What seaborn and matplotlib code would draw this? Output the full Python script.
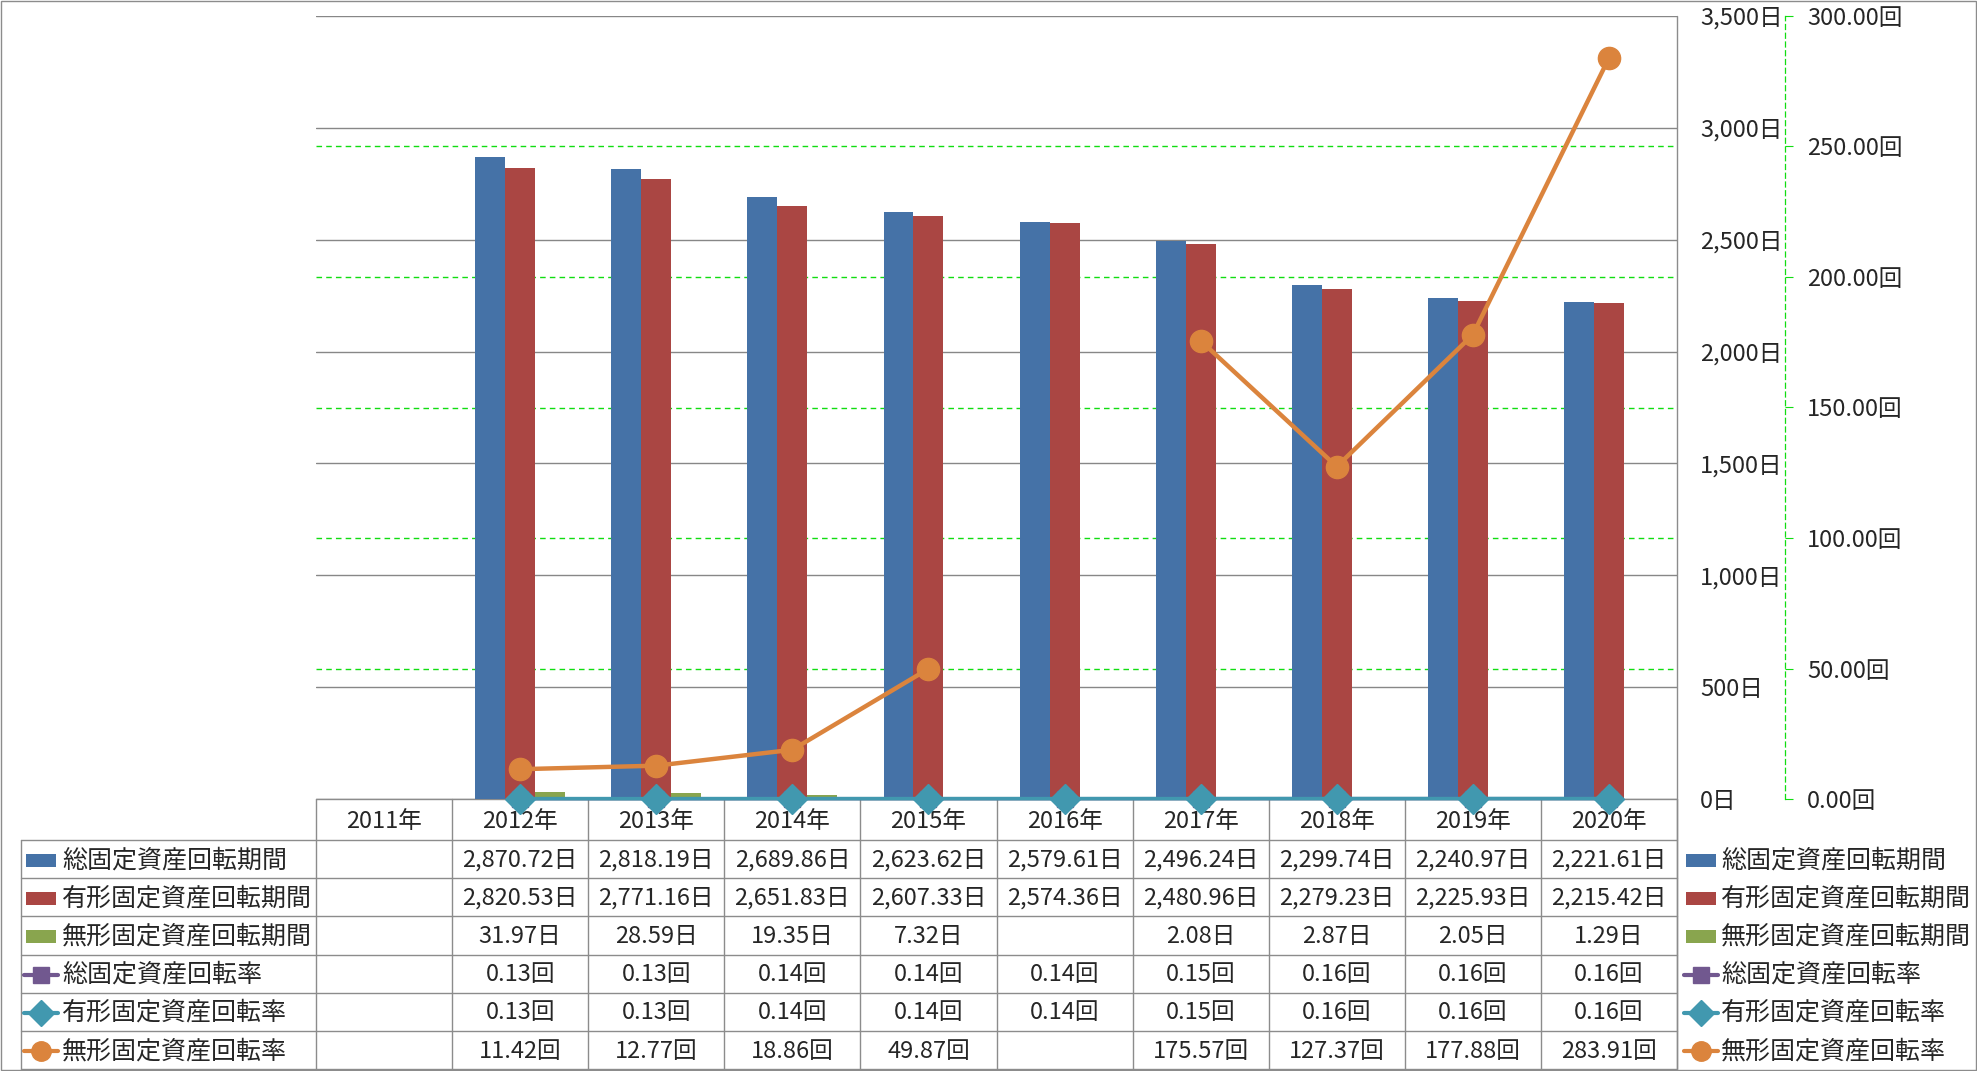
import numpy as np
import pandas as pd
import matplotlib
matplotlib.use("Agg")
import matplotlib.pyplot as plt
import seaborn as sns
from matplotlib.lines import Line2D
from matplotlib.patches import Rectangle

# ---------------- data ----------------
years = ["2011年", "2012年", "2013年", "2014年", "2015年", "2016年",
         "2017年", "2018年", "2019年", "2020年"]
nan = np.nan
total_period = [nan, 2870.72, 2818.19, 2689.86, 2623.62, 2579.61, 2496.24, 2299.74, 2240.97, 2221.61]
tangible_period = [nan, 2820.53, 2771.16, 2651.83, 2607.33, 2574.36, 2480.96, 2279.23, 2225.93, 2215.42]
intangible_period = [nan, 31.97, 28.59, 19.35, 7.32, nan, 2.08, 2.87, 2.05, 1.29]
total_rate = [nan, 0.13, 0.13, 0.14, 0.14, 0.14, 0.15, 0.16, 0.16, 0.16]
tangible_rate = [nan, 0.13, 0.13, 0.14, 0.14, 0.14, 0.15, 0.16, 0.16, 0.16]
intangible_rate = [nan, 11.42, 12.77, 18.86, 49.87, nan, 175.57, 127.37, 177.88, 283.91]

bar_names = ["総固定資産回転期間", "有形固定資産回転期間", "無形固定資産回転期間"]
line_names = ["総固定資産回転率", "有形固定資産回転率", "無形固定資産回転率"]
left_ticks = [0, 500, 1000, 1500, 2000, 2500, 3000, 3500]
right_ticks = [0, 50, 100, 150, 200, 250, 300]

# ---------------- style ----------------
sns.set_style("white")
plt.rcParams["font.family"] = ["Noto Sans CJK JP", "DejaVu Sans"]

BLUE, RED, GREEN = "#4572A7", "#AA4643", "#89A54E"
PURPLE, TEAL, ORANGE = "#71588F", "#4198AF", "#DB843D"
GRID_GRAY = "#878787"
LGREEN = "#11DD11"
FS = 17
FS_LAB = 18

W, H = 1977, 1071
fig = plt.figure(figsize=(W / 100, H / 100), dpi=100)

def px_rect(x0, y0, x1, y1):
    return [x0 / W, 1 - y1 / H, (x1 - x0) / W, (y1 - y0) / H]

# overlay for table (pixel coordinates)
tab = fig.add_axes([0, 0, 1, 1])
tab.set_xlim(0, W)
tab.set_ylim(H, 0)
tab.axis("off")
tab.set_zorder(0)

PL, PR, PT, PB = 316, 1677, 16, 799
ax = fig.add_axes(px_rect(PL, PT, PR, PB))
ax.set_zorder(1)
ax.patch.set_alpha(0)

# ---------------- bars ----------------
df = pd.DataFrame({
    "year": years * 3,
    "series": sum([[n] * len(years) for n in bar_names], []),
    "value": total_period + tangible_period + intangible_period,
}).dropna()

sns.barplot(data=df, x="year", y="value", hue="series", order=years,
            hue_order=bar_names, palette=[BLUE, RED, GREEN], width=0.66,
            dodge=True, errorbar=None, legend=False, saturation=1,
            linewidth=0, ax=ax)

ax.set_xlim(-0.5, len(years) - 0.5)
ax.set_ylim(0, 3500)
ax.set_xlabel("")
ax.set_ylabel("")
ax.set_xticks([])
for s in ax.spines.values():
    s.set_visible(False)
ax.set_axisbelow(True)
ax.yaxis.grid(True, color=GRID_GRAY, lw=1.0)
for v in right_ticks[1:-1]:
    ax.axhline(v / 300 * 3500, color=LGREEN, lw=1.0, ls=(0, (4, 3)), zorder=0.6)

# ---------------- lines ----------------
ax2 = ax.twinx()
ax2.set_zorder(2)
x = np.arange(len(years))
ax2.plot(x, total_rate, color=PURPLE, marker="s", ms=12, lw=2.4, clip_on=False)
ax2.plot(x, tangible_rate, color=TEAL, marker="D", ms=15, lw=2.6, clip_on=False)
ax2.plot(x, intangible_rate, color=ORANGE, marker="o", ms=16, lw=3.2, clip_on=False)
ax2.set_ylim(0, 300)
ax2.set_xlim(-0.5, len(years) - 0.5)
for k, s in ax2.spines.items():
    s.set_visible(k == "right")
ax2.spines["right"].set_position(("outward", (1785 - PR) * 0.72))
ax2.spines["right"].set_color(LGREEN)
ax2.spines["right"].set_linestyle((0, (4, 3)))
ax2.spines["right"].set_linewidth(0.9)
ax2.set_yticks(right_ticks)
ax2.set_yticklabels([f"{v:.2f}回" for v in right_ticks])
ax2.tick_params(axis="y", direction="out", length=5.8, width=0.8, color=LGREEN,
                pad=10, labelsize=FS)

# primary tick labels on the right
ax.yaxis.tick_right()
ax.set_yticks(left_ticks)
ax.set_yticklabels([f"{v:,}日" for v in left_ticks])
ax.tick_params(axis="y", length=0, pad=(1700 - PR) * 0.72, labelsize=FS)

# ---------------- data table ----------------
LINE_C = "#8C8C8C"
col_w = (PR - PL) / len(years)
hdr_bot = 840
row_h = 38.2
n_rows = 6
tbl_bot = hdr_bot + n_rows * row_h
TL = 21

def hline(y, x0, x1):
    tab.add_line(Line2D([x0, x1], [y, y], color=LINE_C, lw=1.0))

def vline(xx, y0, y1):
    tab.add_line(Line2D([xx, xx], [y0, y1], color=LINE_C, lw=1.0))

hline(PB, PL, PR)
for r in range(n_rows + 1):
    hline(hdr_bot + r * row_h, TL, PR)
vline(TL, hdr_bot, tbl_bot)
for c in range(len(years) + 1):
    xx = PL + c * col_w
    vline(xx, PB, tbl_bot)
vline(PR, PT, tbl_bot)
# figure border
tab.add_patch(Rectangle((0.5, 0.5), W - 1.5, H - 1.5, fill=False,
                        edgecolor=LINE_C, lw=1.0))

for c, yr in enumerate(years):
    tab.text(PL + (c + 0.5) * col_w, (PB + hdr_bot) / 2 + 2, yr, ha="center",
             va="center", fontsize=FS)

series_vals = [total_period, tangible_period, intangible_period,
               total_rate, tangible_rate, intangible_rate]
series_names = bar_names + line_names
series_colors = [BLUE, RED, GREEN, PURPLE, TEAL, ORANGE]
series_kind = ["bar", "bar", "bar", "s", "D", "o"]
units = ["日", "日", "日", "回", "回", "回"]
msz = {"s": 12, "D": 13, "o": 14}

def legend_key(x0, yc, kind, color):
    if kind == "bar":
        tab.add_patch(Rectangle((x0, yc - 6.5), 30, 13, color=color, lw=0))
    else:
        tab.add_line(Line2D([x0 - 2, x0 + 32], [yc, yc], color=color, lw=3))
        tab.add_line(Line2D([x0 + 15], [yc], color=color, marker=kind,
                            ms=msz[kind], lw=0))

for r in range(n_rows):
    yc = hdr_bot + (r + 0.5) * row_h + 1
    legend_key(26, yc, series_kind[r], series_colors[r])
    tab.text(62, yc, series_names[r], ha="left", va="center", fontsize=FS_LAB)
    legend_key(1686, yc, series_kind[r], series_colors[r])
    tab.text(1721, yc, series_names[r], ha="left", va="center", fontsize=FS_LAB)
    for c, v in enumerate(series_vals[r]):
        if np.isnan(v):
            continue
        tab.text(PL + (c + 0.5) * col_w, yc, f"{v:,.2f}{units[r]}",
                 ha="center", va="center", fontsize=FS)

fig.savefig("out.png", dpi=100)
